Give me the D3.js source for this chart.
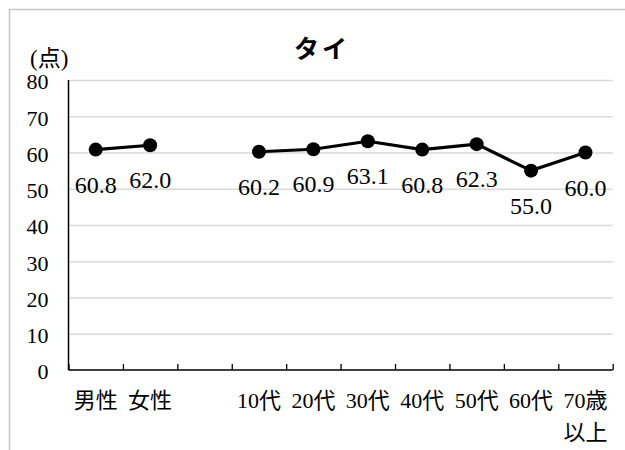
<!DOCTYPE html>
<html>
<head>
<meta charset="utf-8">
<script src="https://cdn.jsdelivr.net/npm/d3@7"></script>
<style>
  body { margin: 0; background: #fff; }
  svg { display: block; }
  .serif { font-family: "Liberation Serif", "Times New Roman", "DejaVu Serif", "Noto Sans CJK JP", serif; }
</style>
</head>
<body>
<script>
// chart data
var title = 'タイ';
var unitLabel = '(点)';
var categories = ['男性', '女性', '', '10代', '20代', '30代', '40代', '50代', '60代', '70歳\n以上'];
var scores = [60.8, 62.0, null, 60.2, 60.9, 63.1, 60.8, 62.3, 55.0, 60.0];
var yTicks = [0, 10, 20, 30, 40, 50, 60, 70, 80];

var width = 625, height = 450;
var plotLeft = 68.5, plotRight = 612.7, plotTop = 80, plotBottom = 370;

var svg = d3.select('body').append('svg')
  .attr('width', width)
  .attr('height', height);

// outer frame (runs off the page at right and bottom)
svg.append('rect')
  .attr('x', 9.5).attr('y', 9.5)
  .attr('width', 700).attr('height', 600)
  .attr('fill', '#fff')
  .attr('stroke', '#c6c6c6')
  .attr('stroke-width', 1.5);

var x = d3.scaleBand().domain(d3.range(categories.length)).range([plotLeft, plotRight]).paddingInner(0).paddingOuter(0);
var xEdge = d3.scaleLinear().domain([0, categories.length]).range([plotLeft, plotRight]);
var y = d3.scaleLinear().domain([0, 80]).range([plotBottom, plotTop]);

function cx(i) { return x(i) + x.bandwidth() / 2; }

// gridlines
svg.append('g')
  .attr('transform', 'translate(' + plotLeft + ',0)')
  .call(d3.axisLeft(y).tickValues(yTicks.filter(function (d) { return d > 0; })).tickSize(-(plotRight - plotLeft)).tickFormat(''))
  .call(function (g) {
    g.select('.domain').remove();
    g.selectAll('line').attr('stroke', '#d9d9d9').attr('stroke-width', 1.5);
  });

// y tick labels
svg.append('g')
  .attr('transform', 'translate(' + plotLeft + ',0)')
  .call(d3.axisLeft(y).tickValues(yTicks).tickSize(0).tickPadding(20))
  .call(function (g) {
    g.attr('font-family', null);
    g.select('.domain').remove();
    g.selectAll('text')
      .attr('class', 'serif')
      .attr('font-size', 22)
      .attr('fill', '#000')
      .attr('dy', '0.4em');
  });

// y axis line
svg.append('line')
  .attr('x1', plotLeft).attr('x2', plotLeft)
  .attr('y1', y(80)).attr('y2', y(0))
  .attr('stroke', '#000').attr('stroke-width', 1.5);

// x axis with inward ticks at category boundaries
svg.append('g')
  .attr('transform', 'translate(0,' + y(0) + ')')
  .call(d3.axisBottom(xEdge).tickValues(d3.range(categories.length + 1)).tickSize(-6).tickFormat(''))
  .call(function (g) {
    g.select('.domain').attr('stroke', '#000').attr('stroke-width', 1.5).attr('d', 'M' + plotLeft + ',0H' + plotRight);
    g.selectAll('line').attr('stroke', '#000').attr('stroke-width', 1.3);
  });

// category labels
var catText = svg.append('g').selectAll('text')
  .data(categories)
  .enter().append('text')
  .attr('class', 'serif')
  .attr('text-anchor', 'middle')
  .attr('font-size', 22)
  .attr('fill', '#000')
  .attr('y', 408);

catText.each(function (d, i) {
  var lines = d.split('\n');
  var t = d3.select(this);
  lines.forEach(function (s, k) {
    t.append('tspan')
      .attr('x', cx(i))
      .attr('dy', k === 0 ? 0 : 32)
      .text(s);
  });
});

// line and markers
var pts = scores.map(function (v, i) { return { i: i, v: v }; });

var line = d3.line()
  .defined(function (d) { return d.v != null; })
  .x(function (d) { return cx(d.i); })
  .y(function (d) { return y(d.v); });

svg.append('path')
  .datum(pts)
  .attr('d', line)
  .attr('fill', 'none')
  .attr('stroke', '#000')
  .attr('stroke-width', 3.2);

var valid = pts.filter(function (d) { return d.v != null; });

svg.append('g').selectAll('circle')
  .data(valid)
  .enter().append('circle')
  .attr('cx', function (d) { return cx(d.i); })
  .attr('cy', function (d) { return y(d.v); })
  .attr('r', 7)
  .attr('fill', '#000');

// data labels below points
svg.append('g').selectAll('text')
  .data(valid)
  .enter().append('text')
  .attr('class', 'serif')
  .attr('x', function (d) { return cx(d.i); })
  .attr('y', function (d) { return y(d.v) + 43; })
  .attr('text-anchor', 'middle')
  .attr('font-size', 24)
  .attr('fill', '#000')
  .text(function (d) { return d.v.toFixed(1); });

// title and unit
svg.append('text')
  .attr('x', 322)
  .attr('y', 58)
  .attr('text-anchor', 'middle')
  .attr('font-family', '"Noto Sans CJK JP", sans-serif')
  .attr('font-weight', 'bold')
  .attr('font-size', 25)
  .attr('letter-spacing', 3)
  .text(title);

svg.append('text')
  .attr('class', 'serif')
  .attr('x', 30)
  .attr('y', 66)
  .attr('font-size', 23)
  .attr('fill', '#000')
  .text(unitLabel);
</script>
</body>
</html>
